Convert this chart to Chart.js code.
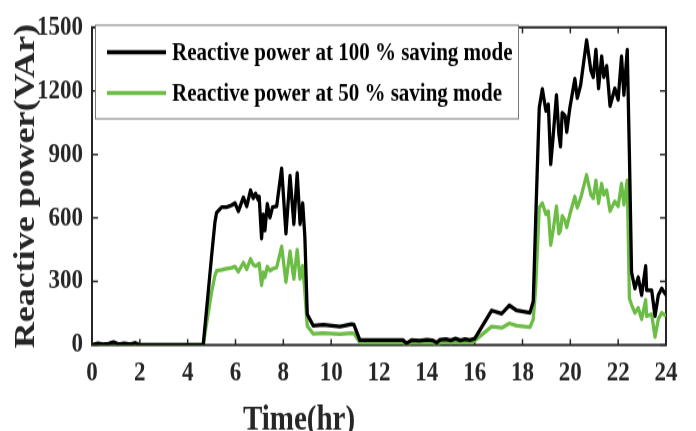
<!DOCTYPE html>
<html>
<head>
<meta charset="utf-8">
<script src="https://cdn.jsdelivr.net/npm/chart.js@4/dist/chart.umd.min.js"></script>
<style>
  html { margin: 0; padding: 0; overflow: hidden; background: #fff; }
  body { margin: 0; padding: 0; height: 431px; background: #fff; }
  #wrap { width: 696px; height: 372px; transform: scaleY(1.2); transform-origin: 0 0; }
</style>
</head>
<body>
<div id="wrap"><canvas id="powerChart" width="696" height="372"></canvas></div>
<script>
// time of day (hr)
const hours = [
  0, 0.25, 0.45, 0.7, 0.9, 1.1, 1.35, 1.6, 1.8, 1.95, 2.1, 4.6,
  4.65, 4.86, 5.0, 5.14, 5.21, 5.42, 5.63, 5.84, 5.98, 6.12, 6.33, 6.47, 6.63, 6.74, 6.84, 6.95, 6.99,
  7.09, 7.16, 7.23, 7.33, 7.44, 7.55, 7.72, 7.93, 8.11, 8.28, 8.44, 8.58, 8.70, 8.81, 8.90, 9.0,
  9.25, 9.67, 10.37, 10.86, 10.95, 11.2, 13.0, 13.15, 13.36, 13.7, 14.0, 14.25, 14.41, 14.55,
  14.8, 15.0, 15.2, 15.4, 15.6, 15.8, 16.0, 16.71, 17.13, 17.45, 17.76, 18.31, 18.45, 18.55,
  18.70, 18.83, 18.98, 19.08, 19.18, 19.28, 19.42, 19.52, 19.59, 19.66, 19.78, 19.85, 19.98,
  20.19, 20.29, 20.43, 20.68, 20.86, 20.96, 21.07, 21.18, 21.31, 21.40, 21.52, 21.66, 21.86,
  22.0, 22.14, 22.24, 22.38, 22.47, 22.56, 22.70, 22.84, 22.98, 23.15, 23.19, 23.40, 23.54,
  23.68, 23.82, 24.0
];
const power100 = [
  0, 8, 3, 6, 14, 4, 8, 3, 10, 2, 0, 0,
  0, 250, 420, 580, 625, 651, 651, 660, 670, 632, 697, 655, 731, 693, 716, 686, 701,
  503, 617, 541, 666, 602, 651, 655, 834, 526, 800, 571, 812, 571, 670, 511, 145,
  91, 96, 87, 99, 96, 23, 23, 8, 23, 20, 25, 22, 11, 25,
  28, 22, 30, 22, 28, 24, 30, 163, 148, 187, 163, 152, 206, 587,
  1120, 1209, 1105, 1136, 854, 983, 1181, 998, 937, 1097, 1082, 1006, 1120,
  1257, 1166, 1227, 1440, 1296, 1265, 1395, 1212, 1364, 1265, 1318, 1128, 1212,
  1158, 1364, 1181, 1395, 900, 343, 267, 320, 236, 373, 259, 259, 137,
  236, 267, 236
];
const power50 = [
  0, 5, 2, 4, 10, 2, 5, 2, 7, 1, 0, 0,
  0, 150, 250, 328, 350, 355, 361, 365, 370, 346, 389, 358, 407, 380, 373, 381, 385,
  282, 343, 320, 370, 351, 360, 366, 465, 297, 442, 312, 450, 312, 374, 250, 90,
  53, 56, 52, 56, 55, 11, 11, 0, 10, 9, 11, 10, 0, 11,
  14, 10, 15, 10, 14, 11, 20, 87, 81, 102, 91, 84, 122, 267,
  648, 670, 617, 632, 472, 541, 655, 526, 540, 610, 587, 556, 617,
  701, 648, 693, 803, 709, 693, 777, 670, 762, 709, 731, 632, 678,
  655, 762, 663, 777, 220, 190, 152, 175, 122, 213, 137, 145, 38,
  122, 152, 137
];
const seriesLabels = ['Reactive power at 100 % saving mode', 'Reactive power at 50 % saving mode'];
const seriesColors = ['#000000', '#6cbd45'];

const serif = "'Liberation Serif', 'Times New Roman', serif";
const inkColor = '#262626';

const boxPlugin = {
  id: 'box',
  beforeDatasetsDraw(chart) {
    const { ctx, chartArea: a, scales: { x, y } } = chart;
    ctx.save();
    ctx.strokeStyle = inkColor;
    ctx.lineWidth = 2;
    ctx.strokeRect(a.left, a.top, a.right - a.left, a.bottom - a.top);
    ctx.lineWidth = 1.5;
    ctx.beginPath();
    x.ticks.forEach(t => {
      const px = x.getPixelForValue(t.value);
      ctx.moveTo(px, a.bottom); ctx.lineTo(px, a.bottom - 5);
      ctx.moveTo(px, a.top); ctx.lineTo(px, a.top + 5);
    });
    y.ticks.forEach(t => {
      const py = y.getPixelForValue(t.value);
      ctx.moveTo(a.left, py); ctx.lineTo(a.left + 6, py);
      ctx.moveTo(a.right, py); ctx.lineTo(a.right - 6, py);
    });
    ctx.stroke();
    // x axis title, partly below the visible edge as in the source figure
    ctx.fillStyle = inkColor;
    ctx.font = 'bold 29px ' + serif;
    ctx.textAlign = 'center';
    ctx.textBaseline = 'alphabetic';
    ctx.fillText('Time(hr)', 299, 358);
    ctx.restore();
  },
  afterDraw(chart) {
    const { ctx } = chart;
    ctx.save();
    ctx.fillStyle = '#fff';
    ctx.fillRect(95, 21, 423, 78);
    ctx.strokeStyle = '#777';
    ctx.lineWidth = 1;
    ctx.strokeRect(95.5, 21, 423, 78);
    ctx.font = 'bold 21px ' + serif;
    ctx.textAlign = 'left';
    ctx.textBaseline = 'middle';
    const rows = [43.5, 77.5];
    chart.data.datasets.forEach((ds, i) => {
      ctx.strokeStyle = ds.borderColor;
      ctx.lineWidth = 3.5;
      ctx.beginPath();
      ctx.moveTo(107, rows[i]); ctx.lineTo(166, rows[i]);
      ctx.stroke();
      ctx.fillStyle = '#000';
      ctx.fillText(ds.label, 172, rows[i] + 1);
    });
    ctx.restore();
  }
};

const ctx = document.getElementById('powerChart').getContext('2d');
new Chart(ctx, {
  type: 'line',
  data: {
    datasets: [
      {
        label: seriesLabels[0],
        data: hours.map((h, i) => ({ x: h, y: power100[i] })),
        borderColor: seriesColors[0],
        borderWidth: 3.3,
        pointRadius: 0,
        tension: 0,
        borderJoinStyle: 'round',
        fill: false
      },
      {
        label: seriesLabels[1],
        data: hours.map((h, i) => ({ x: h, y: power50[i] })),
        borderColor: seriesColors[1],
        borderWidth: 3.3,
        pointRadius: 0,
        tension: 0,
        borderJoinStyle: 'round',
        fill: false
      }
    ]
  },
  options: {
    responsive: false,
    animation: false,
    devicePixelRatio: 1,
    layout: { padding: { top: 14.2, right: 30, left: 0, bottom: 0 } },
    plugins: { legend: { display: false }, tooltip: { enabled: false } },
    scales: {
      x: {
        type: 'linear',
        min: 0,
        max: 24,
        grid: { display: false, drawTicks: false },
        border: { display: false },
        ticks: { stepSize: 2, padding: 10, color: inkColor, font: { family: serif, size: 23, weight: 'bold' } },
        afterFit: scale => { scale.height = 372 - 287.5; }
      },
      y: {
        min: 0,
        max: 1500,
        grid: { display: false, drawTicks: false },
        border: { display: false },
        ticks: {
          stepSize: 300,
          padding: 9,
          color: inkColor,
          font: { family: serif, size: 23, weight: 'bold' },
          callback: v => String(v)
        },
        title: {
          display: true,
          text: 'Reactive power(VAr)',
          color: inkColor,
          padding: { top: 8, bottom: 0 },
          font: { family: serif, size: 30, weight: 'bold' }
        },
        afterFit: scale => { scale.width = 92; }
      }
    }
  },
  plugins: [boxPlugin]
});
</script>
</body>
</html>
